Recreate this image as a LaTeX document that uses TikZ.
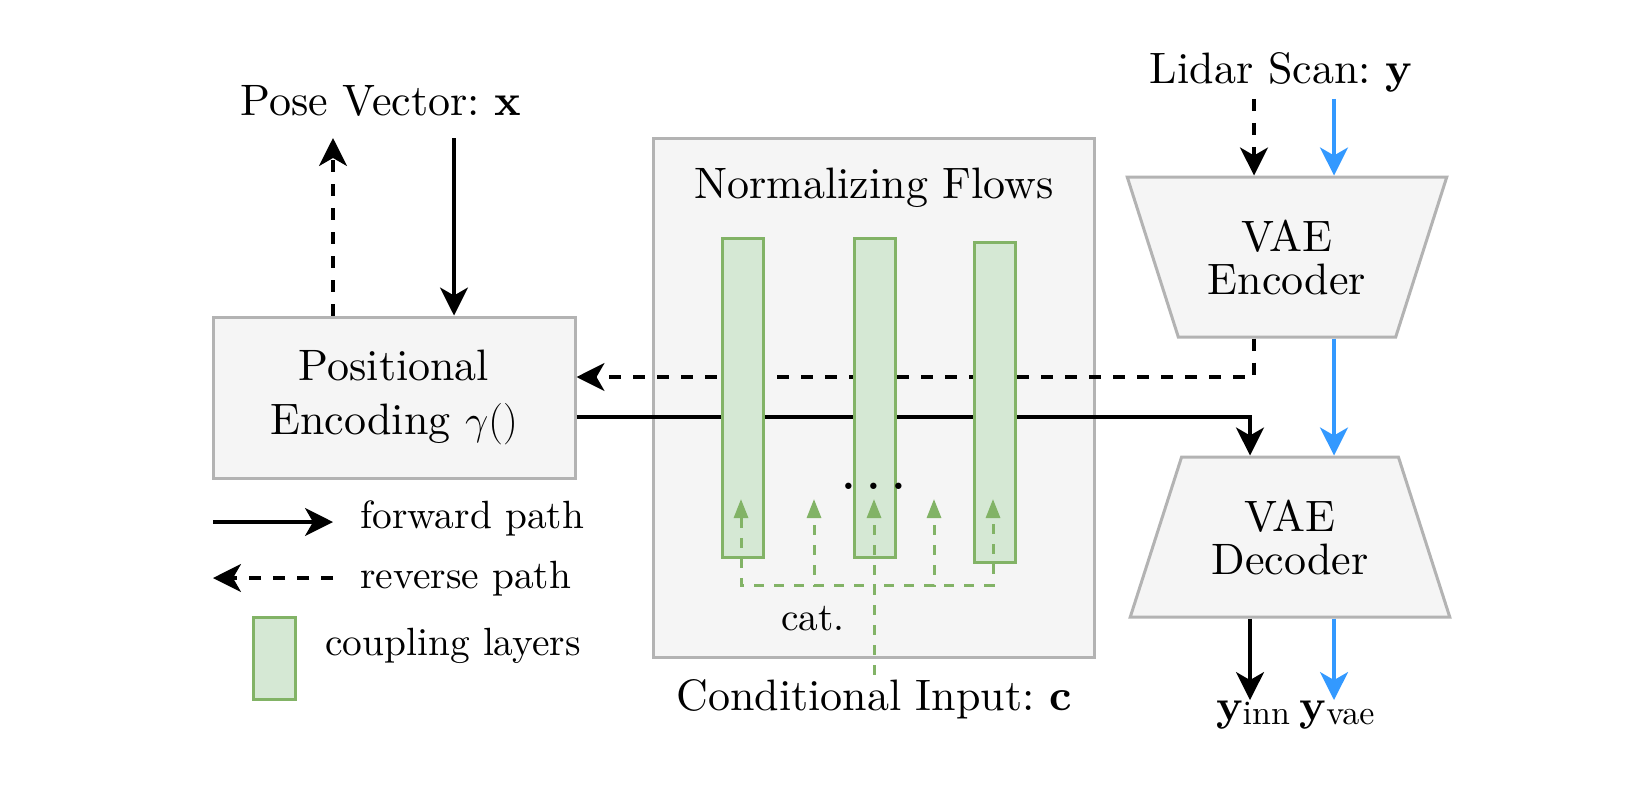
\documentclass[tikz,border=0pt]{standalone}
\usepackage{fontspec}
\setmainfont{lmroman10}[Extension=.otf, UprightFont=*-regular, BoldFont=*-bold, ItalicFont=*-italic, BoldItalicFont=*-bolditalic]
\usepackage{amsmath}
\usetikzlibrary{arrows.meta,shapes.geometric}
\definecolor{boxfill}{HTML}{F5F5F5}
\definecolor{boxline}{HTML}{B3B3B3}
\definecolor{cfill}{HTML}{D5E8D4}
\definecolor{cline}{HTML}{82B366}
\definecolor{vblue}{HTML}{3399FF}
\frenchspacing
\begin{document}
\begin{tikzpicture}[x=0.5pt,y=-0.5pt,
  bigfont/.style={font=\fontsize{22}{27}\selectfont},
  smallfont/.style={font=\fontsize{19.7}{24}\selectfont},
  graybox/.style={draw=boxline, fill=boxfill, line width=1.5pt, rectangle, inner sep=0pt},
  couple/.style={draw=cline, fill=cfill, line width=1.5pt, rectangle, inner sep=0pt, minimum width=20.5pt},
  trap/.style={draw=boxline, fill=boxfill, line width=1.5pt, trapezium, trapezium stretches=true,
     minimum width=160pt, minimum height=80pt, inner sep=0pt, align=center, font=\fontsize{22}{21.5}\selectfont},
  fwd/.style={line width=1.6pt, -{Stealth[length=14pt,width=14pt,inset=4pt]}},
  rev/.style={fwd, dash pattern=on 6pt off 6pt},
  blueflow/.style={fwd, vblue},
  condflow/.style={draw=cline, line width=1.5pt, dash pattern=on 5pt off 5pt, -{Triangle[length=9.5pt,width=7pt]}}
]
\useasboundingbox (0,0) rectangle (1644,788);
\fill[white] (0,0) rectangle (1644,788);

% main blocks
\node[graybox, minimum width=181pt, minimum height=80.5pt, bigfont, align=center] (pe) at (394,397.5) {Positional\\Encoding $\gamma()$};
\node[graybox, minimum width=220.5pt, minimum height=259.5pt] (nf) at (873.5,397.5) {};
\node[bigfont, anchor=base] (nftitle) at (874,198) {Normalizing Flows};
\node[trap, trapezium left angle=116.4, trapezium right angle=116.4] (enc) at (1287,257) {VAE\\Encoder};
\node[trap, trapezium left angle=63.6, trapezium right angle=63.6] (dec) at (1290,537) {VAE\\Decoder};

% texts
\node[bigfont, anchor=base] (pose) at (381,115) {Pose Vector: \textbf{x}};
\node[bigfont, anchor=base] (lidar) at (1281,83) {Lidar Scan: \textbf{y}};
\node[bigfont, anchor=base, inner sep=2pt] (cond) at (874,710) {Conditional Input: \textbf{c}};
\node[bigfont, anchor=base, inner sep=0pt] (yinn) at (1253,720) {\textbf{y}\raisebox{-2pt}{\fontsize{17}{18}\selectfont inn}};
\node[bigfont, anchor=base, inner sep=0pt] (yvae) at (1337,720) {\textbf{y}\raisebox{-2pt}{\fontsize{17}{18}\selectfont vae}};

% coordinates for connector ends
\coordinate (poseout) at (333,138);
\coordinate (posein) at (454,138);
\coordinate (ein1) at ([xshift=-16.5pt]enc.north);
\coordinate (ein2) at ([xshift=23.5pt]enc.north);
\coordinate (din) at ([xshift=-20pt]dec.north);

% pose connectors
\draw[rev] (pe.north -| poseout) -- (poseout);
\draw[fwd] (posein) -- (pe.north -| posein);

% through the flows
\draw[fwd] ([yshift=-9.75pt]pe.east) -| (din);
\draw[rev] ([xshift=-16.5pt]enc.south) |- ([yshift=10.25pt]pe.east);

% lidar / vae
\draw[rev] (lidar.south -| ein1) -- (ein1);
\draw[blueflow] (lidar.south -| ein2) -- (ein2);
\draw[blueflow] (enc.south -| ein2) -- (dec.north -| ein2);
\draw[fwd] (dec.south -| din) -- (yinn.north -| din);
\draw[blueflow] (dec.south -| ein2) -- (yvae.north -| ein2);

% coupling layers
\node[couple, minimum height=159.5pt] (c1) at (742.5,397.5) {};
\node[couple, minimum height=159.5pt] (c2) at (874.5,397.5) {};
\node[couple, minimum height=160pt] (c3) at (994.5,402) {};
\node[anchor=base, font=\fontsize{30}{30}\selectfont, inner sep=0pt] (dots) at (874,489) {.\hspace{4.2pt}.\hspace{4.2pt}.};
\node[smallfont, anchor=base] (cat) at (813,630) {cat.};

% conditional input
\coordinate (bus) at (874,585);
\coordinate (t1) at (741,499);
\coordinate (t2) at (814,499);
\coordinate (t3) at (874,499);
\coordinate (t4) at (934,499);
\coordinate (t5) at (993,499);
\foreach \i in {1,...,5} {\draw[condflow] (cond.north) -- (bus) -| (t\i);}

% legend
\coordinate (lf1) at (213,522);
\coordinate (lf2) at (333,522);
\draw[fwd] (lf1) -- (lf2);
\node[smallfont, anchor=base west, inner sep=0pt] (lfwd) at (360,528) {forward path};
\coordinate (lr1) at (333,578);
\coordinate (lr2) at (213,578);
\draw[rev] (lr1) -- (lr2);
\node[smallfont, anchor=base west, inner sep=0pt] (lrev) at (360,588) {reverse path};
\node[couple, minimum width=21pt, minimum height=41pt] (lcpl) at (274,658) {};
\node[smallfont, anchor=base west, inner sep=0pt] (lcpltxt) at (325,655) {coupling layers};
\end{tikzpicture}
\end{document}
